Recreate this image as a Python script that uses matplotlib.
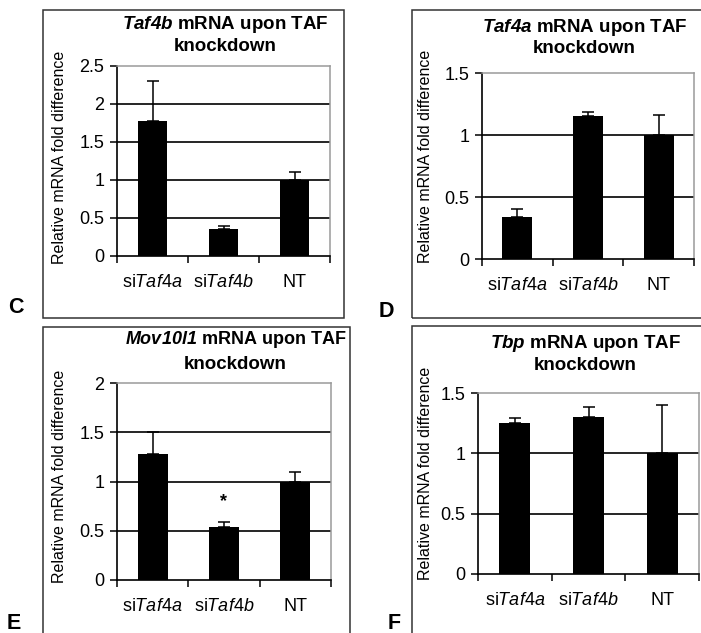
import matplotlib
matplotlib.use("Agg")
import matplotlib.pyplot as plt
from matplotlib.patches import Rectangle

plt.rcParams['font.family'] = ['Liberation Sans', 'DejaVu Sans']
plt.rcParams['mathtext.fontset'] = 'custom'
plt.rcParams['mathtext.rm'] = 'Liberation Sans'
plt.rcParams['mathtext.it'] = 'Liberation Sans:italic'
plt.rcParams['mathtext.bf'] = 'Liberation Sans:bold'
plt.rcParams['mathtext.bfit'] = 'Liberation Sans:bold:italic'

# ---- data ----
categories = [r'si$\mathit{Taf4a}$', r'si$\mathit{Taf4b}$', 'NT']

taf4b_vals = [1.78, 0.35, 1.00]
taf4b_err = [0.52, 0.05, 0.10]

taf4a_vals = [0.34, 1.15, 1.00]
taf4a_err = [0.06, 0.035, 0.16]

mov10l1_vals = [1.28, 0.54, 1.00]
mov10l1_err = [0.22, 0.05, 0.10]

tbp_vals = [1.25, 1.30, 1.00]
tbp_err = [0.045, 0.08, 0.40]

W, H = 701, 633
fig = plt.figure(figsize=(W / 100, H / 100), dpi=100)


def px_axes(left, right, top, bottom):
    return fig.add_axes([left / W, 1 - bottom / H, (right - left) / W, (bottom - top) / H])


def box(x0, y0, x1, y1):
    fig.add_artist(Rectangle((x0 / W, 1 - y1 / H), (x1 - x0) / W, (y1 - y0) / H,
                             transform=fig.transFigure, fill=False, ec='#333333',
                             lw=1.1, clip_on=False))


panels = [
    dict(ax=(117, 330, 66, 256), ymax=2.5, vals=taf4b_vals, err=taf4b_err, gene='Taf4b',
         tx=225.5, tb=(29, 51), yl=(-0.235, 0.518)),
    dict(ax=(482, 694, 73, 259), ymax=1.5, vals=taf4a_vals, err=taf4a_err, gene='Taf4a',
         tx=584.5, tb=(32, 53), yl=(-0.231, 0.551)),
    dict(ax=(117, 331, 383, 580), ymax=2.0, vals=mov10l1_vals, err=mov10l1_err, gene='Mov10l1',
         tx=235.5, tb=(344, 369), yl=(-0.234, 0.525)),
    dict(ax=(478, 699, 393, 574), ymax=1.5, vals=tbp_vals, err=tbp_err, gene='Tbp',
         tx=585.5, tb=(348, 370), yl=(-0.204, 0.558)),
]

axes = []
for p in panels:
    ax = px_axes(*p['ax'])
    axes.append(ax)
    x = list(range(len(categories)))
    ax.bar(x, p['vals'], width=0.42, color='black', zorder=3)
    ax.errorbar(x, p['vals'], yerr=[[0] * 3, p['err']], fmt='none', ecolor='black',
                elinewidth=1.1, capsize=4.5, capthick=1.1, zorder=4)
    ax.set_xlim(-0.5, 2.5)
    ax.set_ylim(0, p['ymax'])
    yt = [i * 0.5 for i in range(int(round(p['ymax'] / 0.5)) + 1)]
    ax.set_yticks(yt)
    ax.set_yticklabels(['0' if v == 0 else ('%g' % v) for v in yt], fontsize=13)
    for v in yt[1:-1]:
        ax.axhline(v, color='black', lw=1.2, zorder=1)
    ax.set_xticks([-0.5, 0.5, 1.5, 2.5])
    ax.set_xticklabels([])
    ax.set_xticks(x, minor=True)
    ax.set_xticklabels(categories, minor=True, fontsize=13)
    ax.tick_params(axis='x', which='minor', length=0, pad=13)
    ax.tick_params(axis='x', which='major', length=5, width=1.1, direction='out')
    ax.tick_params(axis='y', length=5, width=1.1, direction='out', pad=4)
    ax.spines['left'].set_color('black')
    ax.spines['bottom'].set_color('black')
    ax.spines['left'].set_linewidth(1.2)
    ax.spines['bottom'].set_linewidth(1.2)
    ax.spines['top'].set_color('#9a9a9a')
    ax.spines['right'].set_color('#9a9a9a')
    ax.spines['top'].set_linewidth(1.1)
    ax.spines['right'].set_linewidth(1.1)
    ax.set_ylabel('Relative mRNA fold difference', fontsize=11.5)
    ax.yaxis.set_label_coords(*p['yl'])
    fs = 13 if p['gene'] == 'Mov10l1' else 13.5
    fig.text(p['tx'] / W, 1 - p['tb'][0] / H, r'$\mathbfit{%s}$ mRNA upon TAF' % p['gene'],
             ha='center', va='baseline', fontsize=fs, fontweight='bold')
    fig.text(p['tx'] / W, 1 - p['tb'][1] / H, 'knockdown',
             ha='center', va='baseline', fontsize=13.5, fontweight='bold')

# significance marker on Mov10l1 panel
axes[2].text(1, 0.80, '*', ha='center', va='center', fontsize=13, fontweight='bold')

# panel frames
box(42.7, 10, 344, 318)
box(412, 10, 720, 318)
box(42.7, 327, 350, 650)
box(412, 326, 720, 650)

# panel letters
for letter, lx, ly in [('C', 8, 313), ('D', 379, 317), ('E', 7, 629), ('F', 388, 629)]:
    fig.text(lx / W, 1 - ly / H, letter, ha='left', va='baseline', fontsize=15.5, fontweight='bold')

fig.savefig('out.png', dpi=100)
